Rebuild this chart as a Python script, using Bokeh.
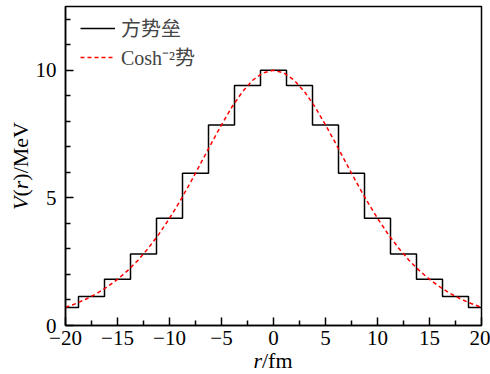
from bokeh.plotting import figure
from bokeh.models import FixedTicker, Legend, LegendItem, Range1d, Div
from bokeh.layouts import column
from bokeh.embed import file_html
from bokeh.resources import INLINE

# ---- data ----
r_steps = [-20, -17.5, -15, -12.5, -10, -7.5, -5, -2.5, 0, 2.5, 5, 7.5, 10, 12.5, 15, 17.5, 20]
v_steps = [0.71, 1.14, 1.81, 2.80, 4.20, 5.97, 7.86, 9.40, 10.0, 9.40, 7.86, 5.97, 4.20, 2.80, 1.81, 1.14, 0.71]

r_curve = [-20, -19, -18, -17, -16, -15, -14, -13, -12, -11, -10, -9, -8, -7, -6, -5, -4, -3, -2, -1,
           0, 1, 2, 3, 4, 5, 6, 7, 8, 9, 10, 11, 12, 13, 14, 15, 16, 17, 18, 19, 20]
v_curve = [0.71, 0.86, 1.04, 1.25, 1.51, 1.81, 2.16, 2.57, 3.05, 3.59, 4.20, 4.87, 5.59, 6.35, 7.12, 7.86, 8.56, 9.15, 9.61, 9.90,
           10.00, 9.90, 9.61, 9.15, 8.56, 7.86, 7.12, 6.35, 5.59, 4.87, 4.20, 3.59, 3.05, 2.57, 2.16, 1.81, 1.51, 1.25, 1.04, 0.86, 0.71]

x_ticks = [-20, -15, -10, -5, 0, 5, 10, 15, 20]
x_minor = [-17.5, -12.5, -7.5, -2.5, 2.5, 7.5, 12.5, 17.5]
y_ticks = [0, 5, 10]
y_minor = [1, 2, 3, 4, 6, 7, 8, 9, 11, 12]

series_names = ["方势垒", "Cosh\u207b\u00b2势"]
x_title_html = "<i>r</i>/fm"
y_title_html = "<i>V</i>(<i>r</i>)/MeV"

SERIF = "Liberation Serif"
MIXED = "'Liberation Serif', 'Noto Sans CJK SC'"

W, H = 490, 374
BL, BR, BT, BB = 65, 9, 6, 49
XMIN, XMAX, YMIN, YMAX = -20, 20, 0, 12.5

p = figure(width=W, height=H, output_backend="svg", toolbar_location=None,
           x_range=Range1d(XMIN, XMAX), y_range=Range1d(YMIN, YMAX),
           min_border_left=BL, min_border_right=BR, min_border_top=BT, min_border_bottom=BB)
p.background_fill_color = "white"
p.border_fill_color = "white"
p.grid.visible = False
p.outline_line_color = "black"
p.outline_line_width = 1.5

r1 = p.step(r_steps, v_steps, mode="center", line_color="black", line_width=1.5)
r2 = p.line(r_curve, v_curve, line_color="#ff0000", line_width=1.5, line_dash="4 3")

for ax in (p.xaxis[0], p.yaxis[0]):
    ax.axis_line_width = 1.5
    ax.major_tick_line_width = 1.5
    ax.minor_tick_line_width = 1.5
    ax.major_tick_in = 8
    ax.major_tick_out = 0
    ax.minor_tick_in = 5
    ax.minor_tick_out = 0
    ax.major_label_text_font = SERIF
    ax.major_label_text_font_size = "21px"
    ax.major_label_text_color = "black"

p.xaxis[0].ticker = FixedTicker(ticks=x_ticks, minor_ticks=x_minor)
p.yaxis[0].ticker = FixedTicker(ticks=y_ticks, minor_ticks=y_minor)
p.xaxis[0].major_label_overrides = {t: (("\u2212" + str(-t)) if t < 0 else str(t)) for t in x_ticks}
p.xaxis[0].major_label_standoff = 5
p.yaxis[0].major_label_standoff = 9

fw, fh = W - BL - BR, H - BT - BB

legend = Legend(items=[LegendItem(label=series_names[0], renderers=[r1]),
                       LegendItem(label=series_names[1], renderers=[r2])],
                location=(15, fh - 65))
legend.border_line_color = None
legend.background_fill_alpha = 0
legend.label_text_font = MIXED
legend.label_text_font_size = "20px"
legend.glyph_width = 35
legend.glyph_height = 20
legend.label_height = 20
legend.label_standoff = 6
legend.spacing = 0
legend.margin = 0
legend.padding = 0
p.add_layout(legend)

# axis titles (mixed italic / upright) as an HTML overlay laid over the plot
FS = 22
xc = BL + fw / 2
html = (
    f'<div style="position:relative;width:{W}px;height:{H}px;font-family:\'{SERIF}\';'
    f'font-size:{FS}px;color:black;pointer-events:none;">'
    f'<span style="position:absolute;left:{xc}px;top:361px;transform:translate(-50%,-50%);'
    f'white-space:nowrap;line-height:1;">{x_title_html}</span>'
    f'<span style="position:absolute;left:21px;top:{BT + fh / 2}px;'
    f'transform:translate(-50%,-50%) rotate(-90deg);white-space:nowrap;line-height:1;">{y_title_html}</span>'
    '</div>'
)
overlay = Div(text=html, width=W, height=H, margin=(-H, 0, 0, 0),
              styles={"pointer-events": "none", "background": "transparent"})

layout = column(p, overlay, width=W, height=H)

open("out.html", "w").write(file_html(layout, INLINE))
